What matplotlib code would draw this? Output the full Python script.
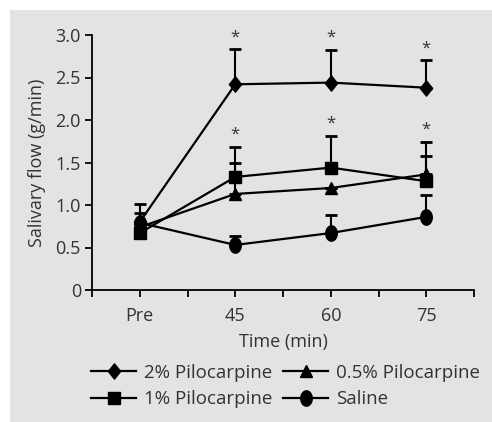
import numpy as np
import matplotlib.pyplot as plt
from matplotlib.path import Path
from matplotlib.patches import Rectangle

plt.rcParams['font.family'] = ['Open Sans', 'DejaVu Sans']

times = ["Pre", "45", "60", "75"]

# mean values and upper error-bar ends
pilo2_mean = [0.80, 2.42, 2.44, 2.38]
pilo2_top = [1.01, 2.83, 2.82, 2.70]
pilo1_mean = [0.67, 1.33, 1.44, 1.28]
pilo1_top = [0.91, 1.68, 1.81, 1.58]
pilo05_mean = [0.74, 1.13, 1.20, 1.36]
pilo05_top = [0.74, 1.50, 1.20, 1.74]
saline_mean = [0.79, 0.53, 0.67, 0.86]
saline_top = [0.79, 0.63, 0.88, 1.12]

# significance stars: (x index, star y)
stars_x = [1, 2, 3, 1, 2, 3]
stars_y = [2.88, 2.87, 2.75, 1.73, 1.86, 1.79]

t = np.linspace(0, 2 * np.pi, 60)
ellipse = Path(np.column_stack([0.75 * np.cos(t), np.sin(t)]), closed=True)
diamond = Path([(0, 1), (0.8, 0), (0, -1), (-0.8, 0), (0, 1)], closed=True)

fig = plt.figure(figsize=(4.92, 4.22), dpi=100)
bg = Rectangle((10 / 492, 0), 1, 1 - 10 / 422, transform=fig.transFigure,
               facecolor='#e3e3e3', edgecolor='none', zorder=-10)
fig.patches.append(bg)
ax = fig.add_axes([92 / 492, 1 - 290 / 422, (474 - 92) / 492, (290 - 35) / 422])
ax.set_facecolor('none')

x = np.arange(len(times))
series = [
    ("2% Pilocarpine", pilo2_mean, pilo2_top, diamond, 11),
    ("1% Pilocarpine", pilo1_mean, pilo1_top, 's', 9),
    ("0.5% Pilocarpine", pilo05_mean, pilo05_top, '^', 9),
    ("Saline", saline_mean, saline_top, ellipse, 11),
]
handles = {}
for label, mean, top, marker, ms in series:
    mean = np.array(mean)
    err = np.array(top) - mean
    ax.errorbar(x, mean, yerr=[np.zeros_like(err), err], fmt='none', ecolor='black',
                elinewidth=1.5, capsize=4, capthick=2, zorder=2)
    h, = ax.plot(x, mean, color='black', lw=1.6, marker=marker, ms=ms, zorder=3,
                 markerfacecolor='black', markeredgecolor='black', label=label)
    handles[label] = h

for sx, sy in zip(stars_x, stars_y):
    ax.text(sx, sy, "*", ha='center', va='bottom', fontsize=12, color='#333333')

ax.set_xlim(-0.5, 3.5)
ax.set_ylim(0, 3.0)
ax.set_xticks(x)
ax.set_xticklabels(times)
ax.set_xticks([-0.5, 0.5, 1.5, 2.5, 3.5], minor=True)
ax.set_yticks([0, 0.5, 1.0, 1.5, 2.0, 2.5, 3.0])
ax.set_yticklabels(["0", "0.5", "1.0", "1.5", "2.0", "2.5", "3.0"])
ax.tick_params(axis='both', which='both', direction='out', length=5, width=1.3,
               labelsize=13, colors='black', labelcolor='#333333')
ax.tick_params(axis='x', pad=7)
ax.tick_params(axis='y', pad=3)
for s in ['top', 'right']:
    ax.spines[s].set_visible(False)
for s in ['left', 'bottom']:
    ax.spines[s].set_linewidth(1.3)

ax.set_xlabel("Time (min)", fontsize=13, color='#333333', labelpad=6)
ax.set_ylabel("Salivary flow (g/min)", fontsize=13, color='#333333', labelpad=7)

order = ["2% Pilocarpine", "1% Pilocarpine", "0.5% Pilocarpine", "Saline"]
fig.legend([handles[k] for k in order], order, ncol=2, loc='center',
           bbox_to_anchor=(0.58, 1 - 386 / 422), frameon=False, fontsize=13.5,
           handlelength=2.4, handletextpad=0.4, columnspacing=0.6, labelspacing=0.45,
           labelcolor='#333333')

fig.savefig("out.png", dpi=100)
